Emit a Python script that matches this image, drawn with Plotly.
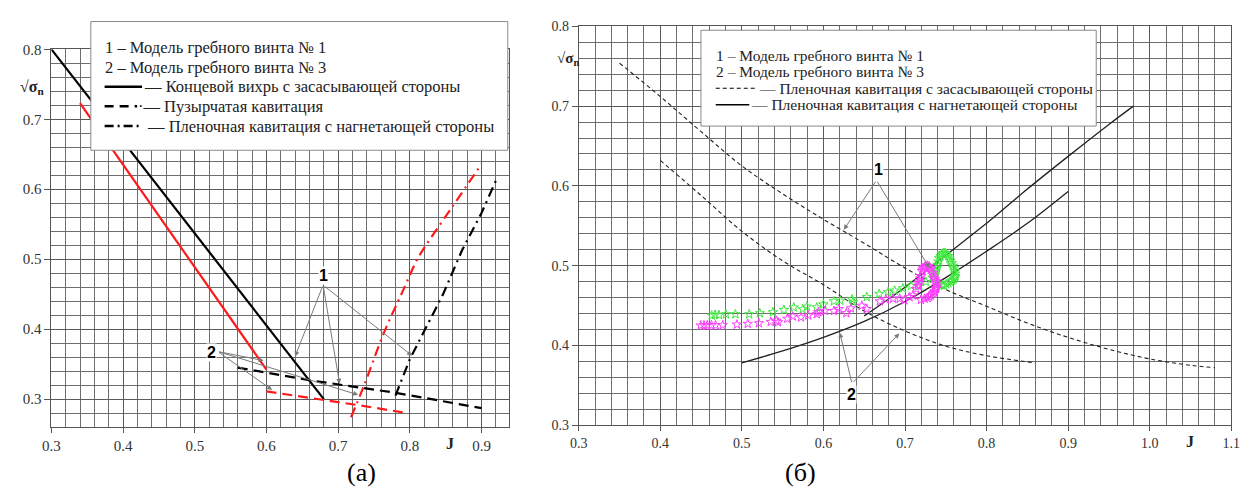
import plotly.graph_objects as go

W, H = 1259, 496

# ---------------- data: chart (a) ----------------
a_tip1_J = [0.30, 0.52, 0.68]
a_tip1_s = [0.80, 0.51, 0.30]
a_tip3_J = [0.34, 0.60]
a_tip3_s = [0.723, 0.342]
a_bub1_J = [0.56, 0.66, 0.78, 0.90]
a_bub1_s = [0.345, 0.327, 0.309, 0.287]
a_bub3_J = [0.60, 0.68, 0.73, 0.79]
a_bub3_s = [0.311, 0.299, 0.291, 0.281]
a_film1_J = [0.78, 0.80, 0.846, 0.873, 0.90, 0.92]
a_film1_s = [0.305, 0.357, 0.449, 0.513, 0.566, 0.612]
a_film3_J = [0.718, 0.736, 0.764, 0.79, 0.81, 0.82, 0.86, 0.90]
a_film3_s = [0.274, 0.319, 0.395, 0.454, 0.499, 0.516, 0.576, 0.636]

# ---------------- data: chart (b) ----------------
b_suc1_J = [0.35, 0.40, 0.45, 0.50, 0.55, 0.60, 0.65, 0.70, 0.75, 0.80, 0.85, 0.90, 0.95, 1.00, 1.05, 1.08]
b_suc1_s = [0.754, 0.712, 0.668, 0.625, 0.59, 0.558, 0.528, 0.497, 0.47, 0.449, 0.428, 0.41, 0.395, 0.383, 0.375, 0.372]
b_suc3_J = [0.40, 0.45, 0.50, 0.55, 0.60, 0.65, 0.70, 0.75, 0.80, 0.86]
b_suc3_s = [0.632, 0.588, 0.543, 0.506, 0.476, 0.443, 0.418, 0.399, 0.387, 0.378]
b_pr1_J = [0.65, 0.70, 0.75, 0.80, 0.85, 0.90, 0.95, 0.98]
b_pr1_s = [0.437, 0.473, 0.513, 0.553, 0.596, 0.637, 0.677, 0.70]
b_pr3_J = [0.50, 0.55, 0.60, 0.65, 0.70, 0.75, 0.80, 0.85, 0.90]
b_pr3_s = [0.378, 0.393, 0.41, 0.43, 0.455, 0.485, 0.518, 0.553, 0.593]

green_J = [0.463, 0.467, 0.472, 0.4805, 0.492, 0.509, 0.522, 0.538, 0.5515, 0.5636,
           0.5745, 0.5797, 0.5918, 0.5999, 0.6128, 0.6208, 0.635, 0.6363, 0.6531, 0.6684,
           0.6793, 0.6873, 0.6974, 0.7075, 0.7176, 0.7256, 0.7337, 0.7377, 0.7398, 0.7418,
           0.745, 0.749, 0.7531, 0.7559, 0.7587, 0.7611, 0.7619, 0.7599, 0.7559, 0.7507,
           0.7478, 0.7367, 0.7388, 0.7408, 0.7434, 0.747, 0.751, 0.7545, 0.7573, 0.76,
           0.7617, 0.7612, 0.758, 0.7533, 0.7455, 0.742]
green_s = [0.4375, 0.4383, 0.438, 0.439, 0.439, 0.439, 0.4403, 0.4416, 0.4444, 0.4476,
           0.4452, 0.4485, 0.4476, 0.4513, 0.4553, 0.4561, 0.4577, 0.4545, 0.4606, 0.4646,
           0.4667, 0.4687, 0.4716, 0.4747, 0.4747, 0.4796, 0.4849, 0.493, 0.5011, 0.5092,
           0.5145, 0.5161, 0.512, 0.5063, 0.4999, 0.493, 0.4869, 0.4829, 0.4796, 0.4768,
           0.4747, 0.489, 0.497, 0.505, 0.512, 0.5158, 0.5145, 0.509, 0.503, 0.4965,
           0.49, 0.4849, 0.4812, 0.478, 0.4755, 0.477]

mag_J = [0.4496, 0.4536, 0.4576, 0.4627, 0.4677, 0.4765, 0.4939, 0.5072, 0.5209, 0.5354,
         0.5422, 0.5443, 0.5556, 0.5624, 0.5725, 0.5814, 0.5918, 0.5938, 0.6019, 0.6128,
         0.6188, 0.628, 0.6337, 0.647, 0.6531, 0.6692, 0.6764, 0.6853, 0.6934, 0.6994,
         0.7055, 0.7095, 0.7135, 0.7156, 0.7176, 0.7196, 0.7208, 0.7224, 0.7256, 0.7297,
         0.7317, 0.7337, 0.7357, 0.7377, 0.7385, 0.7377, 0.7357, 0.7317, 0.7277,
         0.7165, 0.7186, 0.7215, 0.724, 0.7275, 0.7307, 0.7347, 0.7367, 0.7382, 0.7384,
         0.7367, 0.734, 0.7297, 0.7195, 0.724]
mag_s = [0.4249, 0.4251, 0.4253, 0.4253, 0.4253, 0.4253, 0.4261, 0.427, 0.4278, 0.4294,
         0.431, 0.429, 0.4334, 0.4363, 0.4351, 0.4375, 0.4391, 0.4416, 0.4432, 0.4432,
         0.4456, 0.4404, 0.4464, 0.4497, 0.4456, 0.4553, 0.4577, 0.4586, 0.4586, 0.4565,
         0.4606, 0.4626, 0.4707, 0.4747, 0.4808, 0.4869, 0.493, 0.4971, 0.4999, 0.4991,
         0.495, 0.491, 0.4849, 0.4808, 0.4747, 0.4707, 0.4667, 0.4626, 0.4594,
         0.478, 0.484, 0.495, 0.4985, 0.4998, 0.497, 0.488, 0.483, 0.478, 0.472,
         0.468, 0.465, 0.461, 0.457, 0.4585]

# annotation anchors (data units): label position, arrow tail, arrow heads
a_lab1 = (0.679, 0.477); a_tail1 = (0.679, 0.463); a_heads1 = [(0.640, 0.361), (0.702, 0.322), (0.803, 0.362)]
a_lab2 = (0.523, 0.366); a_tail2 = (0.532, 0.368); a_heads2 = [(0.596, 0.355), (0.608, 0.313), (0.728, 0.306)]
b_lab1 = (0.667, 0.62); b_tail1 = (0.665, 0.607); b_heads1 = [(0.625, 0.545), (0.73, 0.497)]
b_lab2 = (0.635, 0.338); b_tail2 = (0.635, 0.352); b_heads2 = [(0.62, 0.416), (0.693, 0.415)]

SERIF = "Liberation Serif"
SANS = "Liberation Sans"


def px(x):
    return x / W


def py(y):
    return 1 - y / H


fig = go.Figure()

def line(xs, ys, color, width, dash, axis, shape='linear'):
    fig.add_trace(go.Scatter(x=xs, y=ys, mode='lines', xaxis=axis[0], yaxis=axis[1],
                             line=dict(color=color, width=width, dash=dash, shape=shape),
                             showlegend=False, hoverinfo='skip'))

A = ('x', 'y')
B = ('x2', 'y2')
RED = '#ff1a1a'
line(a_tip1_J, a_tip1_s, 'black', 2.2, 'solid', A)
line(a_tip3_J, a_tip3_s, RED, 2.2, 'solid', A)
line(a_bub1_J, a_bub1_s, 'black', 2.2, '10px,6px', A)
line(a_bub3_J, a_bub3_s, RED, 2.2, '10px,6px', A)
line(a_film1_J, a_film1_s, 'black', 2.2, '10px,5px,2px,5px', A)
line(a_film3_J, a_film3_s, RED, 2.2, '10px,5px,2px,5px', A, 'spline')

line(b_suc1_J, b_suc1_s, '#222', 1.1, '4px,3px', B, 'spline')
line(b_suc3_J, b_suc3_s, '#222', 1.1, '4px,3px', B, 'spline')
line(b_pr1_J, b_pr1_s, '#222', 1.3, 'solid', B, 'spline')
line(b_pr3_J, b_pr3_s, '#222', 1.3, 'solid', B, 'spline')

fig.add_trace(go.Scatter(x=green_J, y=green_s, mode='markers', xaxis='x2', yaxis='y2',
                         marker=dict(symbol='star-open', size=7, color='#3ee83e', line=dict(width=1, color='#3ee83e')),
                         showlegend=False, hoverinfo='skip'))
fig.add_trace(go.Scatter(x=mag_J, y=mag_s, mode='markers', xaxis='x2', yaxis='y2',
                         marker=dict(symbol='star-open', size=7, color='#ff3cff', line=dict(width=1, color='#ff3cff')),
                         showlegend=False, hoverinfo='skip'))

GRID = '#5a5a5a'
MINOR = '#6e6e6e'

def xax(domain, rng, anchor, fs):
    return dict(domain=domain, range=rng, anchor=anchor, dtick=0.1, tick0=0.3, tickformat='.1f',
                showgrid=True, gridcolor=GRID, gridwidth=1, showline=True, linecolor='#555', mirror=True,
                ticks='outside', ticklen=5, tickcolor='#555',
                tickfont=dict(family=SERIF, size=fs, color='#333'), zeroline=False,
                minor=dict(dtick=0.02, tick0=0.3, showgrid=True, gridcolor=MINOR, gridwidth=1))

def yax(domain, rng, anchor, fs):
    return dict(domain=domain, range=rng, anchor=anchor, dtick=0.1, tick0=0.3, tickformat='.1f',
                showgrid=True, gridcolor=GRID, gridwidth=1, showline=True, linecolor='#555', mirror=True,
                ticks='outside', ticklen=6, tickcolor='#555',
                tickfont=dict(family=SERIF, size=fs, color='#333'), zeroline=False,
                minor=dict(dtick=0.02, tick0=0.3, showgrid=True, gridcolor=MINOR, gridwidth=1))

fig.update_layout(
    width=W, height=H, margin=dict(l=0, r=0, t=0, b=0),
    paper_bgcolor='white', plot_bgcolor='white',
    font=dict(family=SERIF),
    xaxis=xax([px(43), px(507)], [0.3, 0.938], 'y', 15),
    yaxis=yax([py(433), py(42.7)], [0.26, 0.8], 'x', 15),
    xaxis2=xax([px(578), px(1240)], [0.3, 1.1], 'y2', 14),
    yaxis2=yax([py(431), py(19)], [0.3, 0.8], 'x2', 14),
)

shapes = []
annots = []

# arrows and labels
def arrows(xr, yr, tail, heads, lab, text):
    for h in heads:
        annots.append(dict(x=h[0], y=h[1], ax=tail[0], ay=tail[1], xref=xr, yref=yr, axref=xr, ayref=yr,
                           text='', showarrow=True, arrowhead=2, arrowsize=1, arrowwidth=1,
                           arrowcolor='#7a7a7a', standoff=0, startstandoff=0))
    annots.append(dict(x=lab[0], y=lab[1], xref=xr, yref=yr, text='<b>%s</b>' % text, showarrow=False,
                       font=dict(family=SANS, size=16, color='black'), bgcolor='white', borderpad=0))

arrows('x', 'y', a_tail1, a_heads1, a_lab1, '1')
arrows('x', 'y', a_tail2, a_heads2, a_lab2, '2')
arrows('x2', 'y2', b_tail1, b_heads1, b_lab1, '1')
arrows('x2', 'y2', b_tail2, b_heads2, b_lab2, '2')

# legend boxes
def rect(x0, y0, x1, y1):
    shapes.append(dict(type='rect', xref='paper', yref='paper', x0=px(x0), x1=px(x1), y0=py(y1), y1=py(y0),
                       fillcolor='white', line=dict(color='#8a8a8a', width=1), layer='above'))

def seg(x0, x1, y, dash, width):
    shapes.append(dict(type='line', xref='paper', yref='paper', x0=px(x0), x1=px(x1), y0=py(y), y1=py(y),
                       line=dict(color='black', width=width, dash=dash), layer='above'))

def txt(x, y, s, size, xanchor='left', family=SERIF, color='#222'):
    annots.append(dict(x=px(x), y=py(y), xref='paper', yref='paper', text=s, showarrow=False,
                       xanchor=xanchor, yanchor='middle', font=dict(family=family, size=size, color=color)))

rect(83, 14, 506, 147)
txt(95, 41, '1 – Модель гребного винта № 1', 16.5)
txt(95, 61.5, '2 – Модель гребного винта № 3', 16.5)
seg(97, 135, 81.5, 'solid', 2.5)
txt(135, 81.5, '— Концевой вихрь с засасывающей стороны', 16.5)
seg(97, 130, 101.5, '9px,6px', 2.5)
txt(129, 101.5, '·— Пузырчатая кавитация', 16.5)
seg(97, 135, 122, '9px,4px,2px,4px', 2.5)
txt(138, 122, '— Пленочная кавитация с нагнетающей стороны', 16.5)

rect(702, 23, 1103, 122)
txt(715, 49, '1 – Модель гребного винта № 1', 15.5)
txt(715, 66, '2 – Модель гребного винта № 3', 15.5)
seg(717, 759, 83, '4px,3px', 1.1)
txt(759, 83, '— Пленочная кавитация с засасывающей стороны', 15.5)
seg(717, 751, 100, 'solid', 1.3)
txt(751, 100, '— Пленочная кавитация с нагнетающей стороны', 15.5)

# axis titles
txt(23, 82, '<b>√σ<sub>n</sub></b>', 16, xanchor='center')
txt(567, 53, '<b>√σ<sub>n</sub></b>', 15, xanchor='center')
txt(447, 450, '<b>J</b>', 16, xanchor='center')
txt(1198, 448, '<b>J</b>', 16, xanchor='center')

# captions
txt(358, 480, '(а)', 26, xanchor='center', color='black')
txt(803, 480, '(б)', 26, xanchor='center', color='black')

fig.update_layout(shapes=shapes, annotations=annots)
fig.write_html('out.html')
